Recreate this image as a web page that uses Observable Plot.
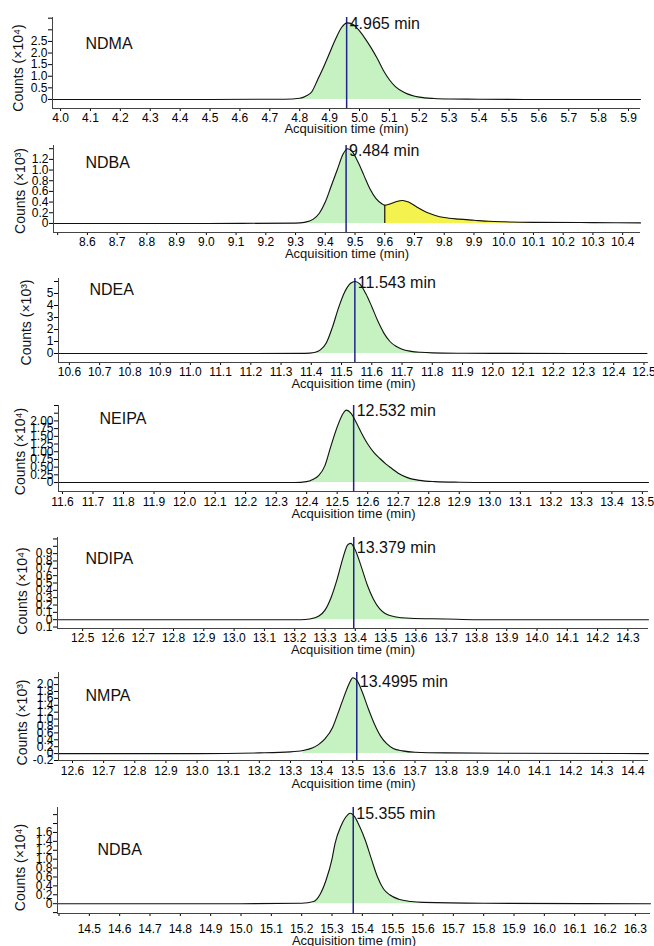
<!DOCTYPE html>
<html><head><meta charset="utf-8">
<script src="https://cdn.jsdelivr.net/npm/d3@7"></script>
<script src="https://cdn.jsdelivr.net/npm/@observablehq/plot@0.6"></script>
<style>
body{margin:0;background:#fff;}
#chart{width:654px;}
#chart svg{display:block;}
</style></head><body><div id="chart"></div>
<script>
// ---------- data ----------
const ndmaTime   = [3.97, 4.5, 4.75, 4.8, 4.82, 4.84, 4.86, 4.88, 4.90, 4.92, 4.94, 4.96, 4.98, 5.00, 5.02, 5.04, 5.06, 5.08, 5.10, 5.12, 5.15, 5.20, 5.25, 5.30, 5.40, 5.60, 5.94];
const ndmaCounts = [0, 0, 0.01, 0.05, 0.14, 0.32, 0.85, 1.4, 2.0, 2.6, 3.1, 3.3, 3.22, 2.95, 2.6, 2.2, 1.75, 1.25, 0.85, 0.55, 0.3, 0.1, 0.04, 0.02, 0.01, 0, 0];

const ndba1Time   = [8.486, 9.0, 9.3, 9.33, 9.36, 9.38, 9.40, 9.42, 9.44, 9.46, 9.475, 9.49, 9.51, 9.53, 9.55, 9.57, 9.59, 9.60, 9.62, 9.64, 9.66, 9.68, 9.71, 9.74, 9.77, 9.80, 9.85, 9.90, 9.95, 10.0, 10.1, 10.3, 10.46];
const ndba1Counts = [0, 0, 0.005, 0.02, 0.08, 0.19, 0.4, 0.7, 1.0, 1.3, 1.4, 1.35, 1.15, 0.9, 0.65, 0.47, 0.37, 0.34, 0.37, 0.41, 0.43, 0.40, 0.30, 0.21, 0.15, 0.11, 0.08, 0.06, 0.04, 0.03, 0.02, 0.015, 0.01];

const ndeaTime   = [10.564, 11.0, 11.38, 11.41, 11.43, 11.45, 11.47, 11.49, 11.51, 11.53, 11.545, 11.56, 11.58, 11.60, 11.62, 11.64, 11.66, 11.68, 11.70, 11.73, 11.76, 11.80, 11.90, 12.0, 12.51];
const ndeaCounts = [0, 0, 0.01, 0.08, 0.3, 0.9, 2.2, 3.8, 5.1, 5.85, 6.0, 5.8, 5.0, 3.9, 2.7, 1.7, 1.0, 0.6, 0.35, 0.18, 0.1, 0.05, 0.02, 0.01, 0];

const neipaTime   = [11.587, 12.0, 12.36, 12.40, 12.42, 12.44, 12.46, 12.48, 12.50, 12.52, 12.53, 12.545, 12.56, 12.58, 12.60, 12.62, 12.64, 12.66, 12.68, 12.70, 12.73, 12.77, 12.82, 12.90, 13.0, 13.52];
const neipaCounts = [0, 0, 0, 0.03, 0.1, 0.23, 0.55, 1.2, 1.8, 2.25, 2.35, 2.25, 2.0, 1.6, 1.25, 0.98, 0.78, 0.6, 0.45, 0.3, 0.16, 0.07, 0.03, 0.01, 0, 0];

const ndipaTime   = [12.417, 13.0, 13.22, 13.25, 13.28, 13.30, 13.32, 13.34, 13.36, 13.375, 13.385, 13.40, 13.42, 13.44, 13.46, 13.48, 13.50, 13.53, 13.58, 13.70, 13.80, 14.368];
const ndipaCounts = [0, 0, 0, 0.01, 0.05, 0.13, 0.3, 0.55, 0.85, 1.02, 1.04, 0.95, 0.72, 0.47, 0.28, 0.15, 0.08, 0.04, 0.02, 0.01, 0, 0];

const nmpaTime   = [12.555, 13.0, 13.2, 13.30, 13.34, 13.37, 13.39, 13.41, 13.435, 13.45, 13.47, 13.49, 13.50, 13.515, 13.53, 13.55, 13.57, 13.59, 13.61, 13.63, 13.66, 13.70, 13.80, 14.0, 14.45];
const nmpaCounts = [0, 0, 0.02, 0.05, 0.09, 0.16, 0.26, 0.42, 0.75, 1.1, 1.6, 2.05, 2.2, 2.1, 1.8, 1.3, 0.85, 0.5, 0.28, 0.15, 0.08, 0.04, 0.02, 0.01, 0];

const ndba2Time   = [14.395, 15.0, 15.20, 15.24, 15.26, 15.28, 15.30, 15.31, 15.33, 15.345, 15.36, 15.375, 15.39, 15.41, 15.43, 15.45, 15.47, 15.49, 15.52, 15.56, 15.60, 15.80, 16.35];
const ndba2Counts = [0, 0, 0.01, 0.05, 0.2, 0.52, 1.0, 1.35, 1.75, 1.94, 2.03, 1.95, 1.75, 1.42, 1.0, 0.6, 0.33, 0.2, 0.1, 0.05, 0.03, 0.01, 0];

const compounds   = ["NDMA", "NDBA", "NDEA", "NEIPA", "NDIPA", "NMPA", "NDBA"];
const yLabels     = ["Counts (×10⁴)", "Counts (×10³)", "Counts (×10³)", "Counts (×10⁴)", "Counts (×10⁴)", "Counts (×10³)", "Counts (×10⁴)"];
const peakLabels  = ["4.965 min", "9.484 min", "11.543 min", "12.532 min", "13.379 min", "13.4995 min", "15.355 min"];
const markerTimes = [4.957, 9.47, 11.544, 12.554, 13.395, 13.513, 15.37];
const greenRanges = [[4.8, 5.30], [9.33, 9.60], [11.41, 11.80], [12.40, 12.90], [13.25, 13.70], [13.34, 13.80], [15.24, 15.60]];
const yellowRange = [9.60, 10.1];

const ndmaXTicks  = [4.0,4.1,4.2,4.3,4.4,4.5,4.6,4.7,4.8,4.9,5.0,5.1,5.2,5.3,5.4,5.5,5.6,5.7,5.8,5.9];
const ndmaXLabels = ["4.0","4.1","4.2","4.3","4.4","4.5","4.6","4.7","4.8","4.9","5.0","5.1","5.2","5.3","5.4","5.5","5.6","5.7","5.8","5.9"];
const ndba1XTicks  = [8.5,8.6,8.7,8.8,8.9,9.0,9.1,9.2,9.3,9.4,9.5,9.6,9.7,9.8,9.9,10.0,10.1,10.2,10.3,10.4];
const ndba1XLabels = ["","8.6","8.7","8.8","8.9","9.0","9.1","9.2","9.3","9.4","9.5","9.6","9.7","9.8","9.9","10.0","10.1","10.2","10.3","10.4"];
const ndeaXTicks  = [10.6,10.7,10.8,10.9,11.0,11.1,11.2,11.3,11.4,11.5,11.6,11.7,11.8,11.9,12.0,12.1,12.2,12.3,12.4,12.5];
const ndeaXLabels = ["10.6","10.7","10.8","10.9","11.0","11.1","11.2","11.3","11.4","11.5","11.6","11.7","11.8","11.9","12.0","12.1","12.2","12.3","12.4","12.5"];
const neipaXTicks  = [11.6,11.7,11.8,11.9,12.0,12.1,12.2,12.3,12.4,12.5,12.6,12.7,12.8,12.9,13.0,13.1,13.2,13.3,13.4,13.5];
const neipaXLabels = ["11.6","11.7","11.8","11.9","12.0","12.1","12.2","12.3","12.4","12.5","12.6","12.7","12.8","12.9","13.0","13.1","13.2","13.3","13.4","13.5"];
const ndipaXTicks  = [12.5,12.6,12.7,12.8,12.9,13.0,13.1,13.2,13.3,13.4,13.5,13.6,13.7,13.8,13.9,14.0,14.1,14.2,14.3];
const ndipaXLabels = ["12.5","12.6","12.7","12.8","12.9","13.0","13.1","13.2","13.3","13.4","13.5","13.6","13.7","13.8","13.9","14.0","14.1","14.2","14.3"];
const nmpaXTicks  = [12.6,12.7,12.8,12.9,13.0,13.1,13.2,13.3,13.4,13.5,13.6,13.7,13.8,13.9,14.0,14.1,14.2,14.3,14.4];
const nmpaXLabels = ["12.6","12.7","12.8","12.9","13.0","13.1","13.2","13.3","13.4","13.5","13.6","13.7","13.8","13.9","14.0","14.1","14.2","14.3","14.4"];
const ndba2XTicks  = [14.4,14.5,14.6,14.7,14.8,14.9,15.0,15.1,15.2,15.3,15.4,15.5,15.6,15.7,15.8,15.9,16.0,16.1,16.2,16.3];
const ndba2XLabels = ["","14.5","14.6","14.7","14.8","14.9","15.0","15.1","15.2","15.3","15.4","15.5","15.6","15.7","15.8","15.9","16.0","16.1","16.2","16.3"];

const ndmaYTicks  = [0,0.5,1.0,1.5,2.0,2.5,3.0,3.5];
const ndmaYLabels = ["0","0.5","1.0","1.5","2.0","2.5","",""];
const ndba1YTicks  = [0,0.2,0.4,0.6,0.8,1.0,1.2,1.4];
const ndba1YLabels = ["0","0.2","0.4","0.6","0.8","1.0","1.2",""];
const ndeaYTicks  = [0,1,2,3,4,5,6];
const ndeaYLabels = ["0","1","2","3","4","5",""];
const neipaYTicks  = [0,0.25,0.5,0.75,1.0,1.25,1.5,1.75,2.0,2.25,2.5];
const neipaYLabels = ["0","0.25","0.50","0.75","1.00","1.25","1.50","1.75","2.00","",""];
const ndipaYTicks  = [-0.1,0,0.1,0.2,0.3,0.4,0.5,0.6,0.7,0.8,0.9,1.0,1.1];
const ndipaYLabels = ["0.1","0","0.1","0.2","0.3","0.4","0.5","0.6","0.7","0.8","0.9","",""];
const nmpaYTicks  = [-0.2,0,0.2,0.4,0.6,0.8,1.0,1.2,1.4,1.6,1.8,2.0,2.2];
const nmpaYLabels = ["-0.2","0","0.2","0.4","0.6","0.8","1.0","1.2","1.4","1.6","1.8","2.0",""];
const ndba2YTicks  = [-0.2,0,0.2,0.4,0.6,0.8,1.0,1.2,1.4,1.6,1.8,2.0];
const ndba2YLabels = ["","0","0.2","0.4","0.6","0.8","1.0","1.2","1.4","1.6","",""];

// ---------- layout (pixels / scale extents) ----------
const layouts = [
  {h:136, mt:17, mb:28, left:52, right:640, xDomain:[3.973, 5.94],  yDomain:[-0.39, 3.53], xPad:2, titleDy:20, nameDx:33, nameDy:26, peakDy:6,  yLabelX:18, yLabelDy:5},
  {h:129, mt:9,  mb:33, left:53, right:640, xDomain:[8.486, 10.46], yDomain:[-0.17, 1.46], xPad:2, titleDy:21, nameDx:32, nameDy:17, peakDy:5,  yLabelX:20, yLabelDy:2},
  {h:130, mt:13, mb:33, left:58, right:648, xDomain:[10.564, 12.515],yDomain:[-0.75, 6.25], xPad:2, titleDy:21, nameDx:31, nameDy:11, peakDy:4,  yLabelX:26, yLabelDy:2},
  {h:127, mt:10, mb:31, left:58, right:648, xDomain:[11.587, 13.52],yDomain:[-0.29, 2.5],  xPad:3, titleDy:22, nameDx:41, nameDy:13, peakDy:5,  yLabelX:20, yLabelDy:3},
  {h:136, mt:15, mb:30, left:57, right:648, xDomain:[12.417, 14.368],yDomain:[-0.12, 1.12],xPad:2, titleDy:21, nameDx:28, nameDy:21, peakDy:10, yLabelX:22, yLabelDy:8},
  {h:137, mt:14, mb:35, left:58, right:648, xDomain:[12.555, 14.45],yDomain:[-0.2, 2.35],  xPad:3, titleDy:23, nameDx:27, nameDy:23, peakDy:9,  yLabelX:22, yLabelDy:6},
  {h:151, mt:12, mb:33, left:57, right:650, xDomain:[14.395, 16.35],yDomain:[-0.22, 2.16], xPad:8, titleDy:27, nameDx:40, nameDy:42, peakDy:6,  yLabelX:20, yLabelDy:7}
];

const series = [
  [ndmaTime, ndmaCounts, ndmaXTicks, ndmaXLabels, ndmaYTicks, ndmaYLabels],
  [ndba1Time, ndba1Counts, ndba1XTicks, ndba1XLabels, ndba1YTicks, ndba1YLabels],
  [ndeaTime, ndeaCounts, ndeaXTicks, ndeaXLabels, ndeaYTicks, ndeaYLabels],
  [neipaTime, neipaCounts, neipaXTicks, neipaXLabels, neipaYTicks, neipaYLabels],
  [ndipaTime, ndipaCounts, ndipaXTicks, ndipaXLabels, ndipaYTicks, ndipaYLabels],
  [nmpaTime, nmpaCounts, nmpaXTicks, nmpaXLabels, nmpaYTicks, nmpaYLabels],
  [ndba2Time, ndba2Counts, ndba2XTicks, ndba2XLabels, ndba2YTicks, ndba2YLabels]
];

const GREEN = "#c6f1c0", YELLOW = "#f4f24e", BLUE = "#22228c", INK = "#111";
const FONT = "'Liberation Sans', Arial, Helvetica, sans-serif";

function fmt(ticks, labels) {
  const m = new Map(ticks.map((v, i) => [(+v).toFixed(3), labels[i]]));
  return d => m.get((+d).toFixed(3)) ?? "";
}

const root = document.getElementById("chart");
series.forEach(([time, counts, xT, xL, yT, yL], k) => {
  const L = layouts[k];
  const data = time.map((t, i) => ({t, c: counts[i]}));
  const inRange = r => data.filter(d => d.t >= r[0] - 1e-9 && d.t <= r[1] + 1e-9);
  const marks = [
    Plot.areaY(inRange(greenRanges[k]), {x: "t", y: "c", fill: GREEN, curve: "monotone-x"})
  ];
  if (k === 1) {
    marks.push(Plot.areaY(inRange(yellowRange), {x: "t", y: "c", fill: YELLOW, curve: "monotone-x"}));
    const split = data.find(d => Math.abs(d.t - yellowRange[0]) < 1e-9);
    marks.push(Plot.ruleX([split], {x: "t", y1: 0, y2: "c", stroke: INK, strokeWidth: 1.2}));
  }
  marks.push(
    Plot.ruleX([markerTimes[k]], {stroke: BLUE, strokeWidth: 1.5}),
    Plot.lineY(data, {x: "t", y: "c", stroke: INK, strokeWidth: 1.1, curve: "monotone-x"}),
    Plot.ruleX([L.xDomain[0]], {stroke: "#444", strokeWidth: 1}),
    Plot.ruleY([L.yDomain[0]], {stroke: "#444", strokeWidth: 1}),
    Plot.text([compounds[k]], {text: d => d, frameAnchor: "top-left", dx: L.nameDx, dy: L.nameDy,
      textAnchor: "start", lineAnchor: "middle", fontSize: 16, fill: INK}),
    Plot.text([{t: markerTimes[k], s: peakLabels[k]}], {x: "t", text: "s", frameAnchor: "top", dx: 3, dy: L.peakDy,
      textAnchor: "start", lineAnchor: "middle", fontSize: 16, fill: INK}),
    Plot.text(["Acquisition time (min)"], {text: d => d, frameAnchor: "bottom", dy: L.titleDy,
      textAnchor: "middle", lineAnchor: "middle", fontSize: 13, fill: INK}),
    Plot.text([yLabels[k]], {text: d => d, frameAnchor: "left", rotate: -90, dx: L.yLabelX - L.left, dy: L.yLabelDy,
      textAnchor: "middle", lineAnchor: "middle", fontSize: 14, fill: INK})
  );
  const svg = Plot.plot({
    width: 654, height: L.h,
    marginLeft: L.left, marginRight: 654 - L.right, marginTop: L.mt, marginBottom: L.mb,
    style: {fontFamily: FONT, fontSize: "12px", color: "#000", background: "#fff", overflow: "visible"},
    x: {domain: L.xDomain, ticks: xT, tickFormat: fmt(xT, xL), tickSize: 3, tickPadding: L.xPad, label: null},
    y: {domain: L.yDomain, ticks: yT, tickFormat: fmt(yT, yL), tickSize: 4, tickPadding: 1, label: null},
    marks
  });
  root.appendChild(svg);
});
</script>
</body></html>
